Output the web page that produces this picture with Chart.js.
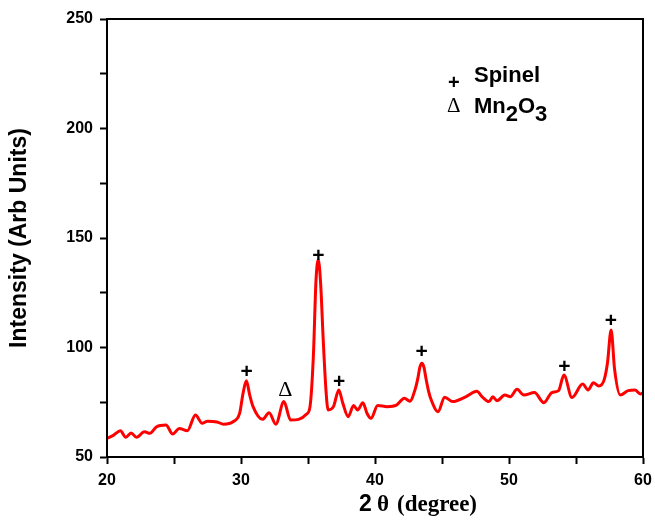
<!DOCTYPE html>
<html>
<head>
<meta charset="utf-8">
<script src="https://cdn.jsdelivr.net/npm/chart.js@4/dist/chart.umd.min.js"></script>
<style>
  body { margin: 0; background: #fff; }
  #wrap { width: 655px; height: 521px; }
</style>
</head>
<body>
<div id="wrap"><canvas id="chart" width="655" height="521"></canvas></div>
<script>
// XRD pattern
const twoTheta = [20, 20.5, 21.0, 21.4, 21.8, 22.2, 22.8, 23.2, 23.7, 24.4, 24.9, 25.4, 26.0, 26.6, 27.1, 27.5,
  28.2, 28.7, 29.4, 29.9, 30.15, 30.4, 30.65, 30.9, 31.6, 32.1, 32.6, 33.2, 33.7, 34.3, 34.9, 35.15, 35.4, 35.6,
  35.77, 35.94, 36.14, 36.34, 36.5, 36.9, 37.3, 37.6, 38.0, 38.4, 38.7, 39.1, 39.4, 39.7, 40.2, 40.9, 41.6, 42.2,
  42.6, 43.0, 43.2, 43.35, 43.5, 43.65, 43.8, 44.0, 44.2, 44.7, 45.2, 45.8, 46.8, 47.6, 48.0, 48.5, 48.8, 49.1,
  49.7, 50.1, 50.6, 51.1, 51.9, 52.6, 53.2, 53.7, 54.1, 54.7, 55.5, 55.9, 56.3, 56.7, 57.1, 57.35, 57.62,
  57.88, 58.3, 58.9, 59.4, 59.8, 60];
const intensity = [58.5, 60, 62, 59, 61, 59, 61.5, 60.8, 63.8, 64.6, 60.5, 63, 62, 69.2, 65.4, 66.3,
  66, 65, 66.1, 70, 79, 84.8, 78.3, 73, 67.2, 70.2, 65, 75.3, 66.9, 67.2, 69.6, 73, 96, 131,
  140, 129.5, 103, 80.6, 71.5, 73, 80.6, 74.5, 68.4, 73.5, 71.5, 74.8, 70, 67.7, 73.5, 73, 73.7, 76.8,
  75.5, 81, 86, 91, 92.8, 91, 86, 80, 76, 70.7, 77.3, 75.3, 77.6, 80, 77.5, 75.3, 77.5, 75.7,
  78.3, 77.5, 80.9, 78.3, 79.4, 74.8, 79.4, 80.3, 87.4, 77.2, 83.3, 80.6, 83.9, 82.4, 85.2, 93, 108,
  90, 78.3, 80.3, 80.6, 78.8, 79.4];

// peak labels
const markX = [30.42, 35.77, 37.33, 43.48, 54.13, 57.6, 33.3];
const markY = [88.8, 141.8, 84.2, 97.9, 91.1, 112.1, 80.6];
const markSym = ['+', '+', '+', '+', '+', '+', '\u0394'];

const points = twoTheta.map((x, i) => ({x: x, y: intensity[i]}));

const annotations = {
    id: 'annotations',
    afterDraw(chart) {
        const ctx = chart.ctx;
        const xs = chart.scales.x, ys = chart.scales.y;
        const a = chart.chartArea;
        ctx.save();
        // frame on top and right
        ctx.strokeStyle = '#000';
        ctx.lineWidth = 2;
        ctx.strokeRect(a.left, a.top, a.right - a.left, a.bottom - a.top);

        ctx.fillStyle = '#000';
        ctx.textAlign = 'center';
        ctx.textBaseline = 'middle';
        markSym.forEach((s, i) => {
            ctx.font = s === '+' ? 'bold 21px "Liberation Sans"' : '22px "Liberation Serif"';
            ctx.fillText(s, xs.getPixelForValue(markX[i]), ys.getPixelForValue(markY[i]));
        });

        // legend
        ctx.textAlign = 'left';
        ctx.textBaseline = 'alphabetic';
        ctx.font = 'bold 20px "Liberation Sans"';
        ctx.fillText('+', 448, 89);
        ctx.font = '21px "Liberation Serif"';
        ctx.fillText('\u0394', 447, 112);
        ctx.font = 'bold 22px "Liberation Sans"';
        ctx.fillText('Spinel', 474, 82);
        let x = 474;
        ctx.fillText('Mn', x, 113); x += ctx.measureText('Mn').width;
        ctx.fillText('2', x, 121); x += ctx.measureText('2').width;
        ctx.fillText('O', x, 113); x += ctx.measureText('O').width;
        ctx.fillText('3', x, 121);

        // x axis title
        ctx.font = 'bold 23px "Liberation Sans"';
        ctx.fillText('2', 359, 511);
        ctx.font = 'bold 23px "Liberation Serif"';
        ctx.fillText('\u03b8', 377, 511);
        ctx.fillText('(degree)', 397, 511);
        ctx.restore();
    }
};

new Chart(document.getElementById('chart').getContext('2d'), {
    type: 'line',
    data: {
        datasets: [{
            data: points,
            borderColor: 'rgb(255,0,0)',
            borderWidth: 3,
            pointRadius: 0,
            fill: false,
            cubicInterpolationMode: 'monotone'
        }]
    },
    options: {
        responsive: false,
        animation: false,
        layout: {padding: {left: 0, top: 19, right: 12, bottom: 0}},
        plugins: {legend: {display: false}, tooltip: {enabled: false}},
        scales: {
            x: {
                type: 'linear',
                min: 20,
                max: 60,
                afterFit: s => { s.height = 64; s.paddingLeft = 0; s.paddingRight = 0; },
                border: {display: true, color: '#000', width: 2},
                grid: {drawOnChartArea: false, color: '#000', tickLength: 7, tickWidth: 2},
                ticks: {
                    stepSize: 5,
                    color: '#000',
                    padding: 7,
                    font: {family: 'Liberation Sans', size: 16, weight: 'bold'},
                    callback: v => v % 10 === 0 ? v : ''
                }
            },
            y: {
                min: 50,
                max: 250,
                afterFit: s => { s.width = 107; },
                border: {display: true, color: '#000', width: 2},
                grid: {drawOnChartArea: false, color: '#000', tickLength: 7, tickWidth: 2},
                ticks: {
                    stepSize: 25,
                    color: '#000',
                    padding: 7,
                    font: {family: 'Liberation Sans', size: 16, weight: 'bold'},
                    callback: v => v % 50 === 0 ? v : ''
                },
                title: {
                    display: true,
                    text: 'Intensity (Arb Units)',
                    color: '#000',
                    padding: {top: 6, bottom: 0},
                    font: {family: 'Liberation Sans', size: 23, weight: 'bold'}
                }
            }
        }
    },
    plugins: [annotations]
});
</script>
</body>
</html>
